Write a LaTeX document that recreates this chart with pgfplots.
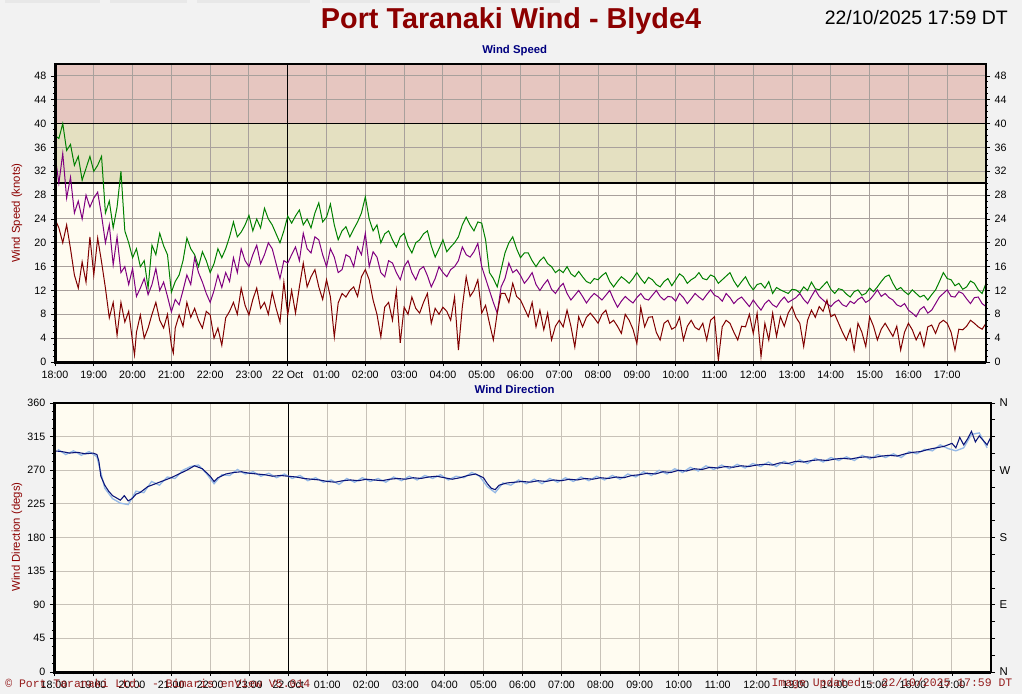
\documentclass[border=0pt]{standalone}
\usepackage{fontspec}
\setmainfont{Liberation Sans}
\newfontfamily\monofont{Liberation Mono}
\usepackage{pgfplots}
\pgfplotsset{compat=1.18}

\definecolor{pagebg}{RGB}{242,242,242}
\definecolor{cream}{RGB}{255,252,241}
\definecolor{redband}{RGB}{230,198,192}
\definecolor{yelband}{RGB}{228,224,193}
\definecolor{gridtop}{RGB}{168,160,156}
\definecolor{gridbot}{RGB}{200,194,184}
\definecolor{gustc}{RGB}{0,128,0}
\definecolor{meanc}{RGB}{128,0,128}
\definecolor{minc}{RGB}{128,0,0}
\definecolor{titlec}{RGB}{140,0,0}
\definecolor{navyc}{RGB}{0,0,128}
\definecolor{dirc}{RGB}{10,20,120}
\definecolor{dirlight}{RGB}{150,185,230}
\definecolor{copyc}{RGB}{150,30,30}

\pgfplotsset{
  wind/.style={
    scale only axis, anchor=south west,
    xmin=0, xmax=24,
    xtick={0,...,23},
    xticklabels={18:00,19:00,20:00,21:00,22:00,23:00,22 Oct,01:00,02:00,03:00,04:00,05:00,06:00,07:00,08:00,09:00,10:00,11:00,12:00,13:00,14:00,15:00,16:00,17:00},
    minor x tick num=3,
    tick align=outside, tick pos=left,
    major tick length=3pt, minor tick length=1.6pt,
    tick style={black, line width=0.6pt},
    ticklabel style={font=\fontsize{8}{9}\selectfont},
    /pgf/number format/assume math mode=true,
    axis line style={line width=0.8pt},
    grid=major,
    extra x ticks={6}, extra x tick labels={},
    extra x tick style={grid style={black, line width=1.1pt}},
  },
}

\begin{document}
\begin{tikzpicture}
\useasboundingbox (0,0) rectangle (766.5pt,520.5pt);
\fill[pagebg] (0,0) rectangle (766.5pt,520.5pt);
% faint tabs at the top edge
\fill[gray!18] (3.75pt,518pt) rectangle (75pt,520.5pt);
\fill[gray!18] (82.5pt,518pt) rectangle (140pt,520.5pt);
\fill[gray!18] (148pt,518pt) rectangle (232.5pt,520.5pt);
\fill[gray!18] (241.5pt,518pt) rectangle (420pt,520.5pt);

% panel backgrounds and bands
\fill[cream] (41.25pt,249pt) rectangle (739.5pt,472.5pt);
\fill[yelband] (41.25pt,383.1pt) rectangle (739.5pt,427.8pt);
\fill[redband] (41.25pt,427.8pt) rectangle (739.5pt,472.5pt);
\fill[cream] (40.5pt,16.5pt) rectangle (743.25pt,218.25pt);

% ---------------- wind speed ----------------
\begin{axis}[wind,
  at={(41.25pt,249pt)}, width=698.25pt, height=223.5pt,
  ymin=0, ymax=50, ytick={0,4,...,48}, minor y tick num=3,
  grid style={gridtop, line width=0.7pt},
  extra y ticks={30,40}, extra y tick labels={},
  extra y tick style={grid style={black, line width=1.1pt}},
]
% gust
\addplot[gustc, line width=0.75pt] coordinates {
(0,38)(0.1,37.5)(0.2,40)(0.3,35.5)(0.4,36.5)(0.5,33)(0.6,34.5)(0.7,30.5)(0.8,32.5)(0.9,34.5)
(1,32)(1.1,33)(1.2,34.5)(1.3,25)(1.4,27)(1.5,22.5)(1.6,26)(1.7,32)(1.8,22)(1.9,20)
(2,17.5)(2.1,19)(2.2,16)(2.3,17)(2.4,12.4)(2.5,19.6)(2.6,18)(2.7,21.6)(2.8,19.5)(2.9,18)
(3,11.7)(3.1,13.5)(3.2,14.6)(3.3,17)(3.4,20.8)(3.5,19)(3.6,18)(3.7,16)(3.8,18.5)(3.9,17)
(4,15)(4.1,16.5)(4.2,19)(4.3,17.5)(4.4,19)(4.5,21)(4.6,23.5)(4.7,21)(4.8,21.8)(4.9,23)
(5,24.6)(5.1,22)(5.2,24)(5.3,22.5)(5.4,25.8)(5.5,24)(5.6,23)(5.7,21.5)(5.8,20)(5.9,22)
(6,24.5)(6.1,23.3)(6.2,24.5)(6.3,25.5)(6.4,23)(6.5,24)(6.6,22.5)(6.7,25)(6.8,26.7)(6.9,23.5)
(7,24.3)(7.1,26.5)(7.2,23)(7.3,20.5)(7.4,22)(7.5,22.7)(7.6,21)(7.7,22.3)(7.8,23.5)(7.9,25)
(8,27.7)(8.1,24)(8.2,22)(8.3,23)(8.4,20)(8.5,21.5)(8.6,22)(8.7,20.5)(8.8,19.3)(8.9,21)
(9,21.6)(9.1,19.5)(9.2,18.3)(9.3,20)(9.4,20.5)(9.5,21.5)(9.6,22)(9.7,19.5)(9.8,17.6)(9.9,19)
(10,20.5)(10.1,18.5)(10.2,19.3)(10.3,20)(10.4,21)(10.5,23)(10.6,24.3)(10.7,23)(10.8,22)(10.9,23.5)
(11,23.3)(11.1,20.5)(11.2,15)(11.3,14)(11.4,12.6)(11.5,15.5)(11.6,18.3)(11.7,20)(11.8,21)(11.9,19)
(12,17.5)(12.1,18.3)(12.2,18.3)(12.3,17)(12.4,16)(12.5,17)(12.6,17.6)(12.7,16.5)(12.8,16)(12.9,15)
(13,15.5)(13.1,15)(13.2,16)(13.3,14.8)(13.4,14.3)(13.5,15.2)(13.6,14.3)(13.7,13.5)(13.8,13.2)(13.9,14)
(14,13.8)(14.1,14.5)(14.2,15)(14.3,13.5)(14.4,12.6)(14.5,13.5)(14.6,14.3)(14.7,13.8)(14.8,13.2)(14.9,14)
(15,15)(15.1,14)(15.2,13.2)(15.3,14.2)(15.4,13.8)(15.5,13)(15.6,12.6)(15.7,13.5)(15.8,14)(15.9,12.8)
(16,13.8)(16.1,14.8)(16.2,14.3)(16.3,13.2)(16.4,13.8)(16.5,14.2)(16.6,15)(16.7,14)(16.8,13.8)(16.9,14.6)
(17,14.3)(17.1,13.2)(17.2,13.8)(17.3,14.4)(17.4,15)(17.5,13.6)(17.6,12.6)(17.7,13.5)(17.8,14.3)(17.9,13)
(18,12.1)(18.1,13)(18.2,13.2)(18.3,12.4)(18.4,13.5)(18.5,11.5)(18.6,12.5)(18.7,12.1)(18.8,11.8)(18.9,11.5)
(19,12.2)(19.1,12.1)(19.2,11.6)(19.3,12.6)(19.4,12)(19.5,13.4)(19.6,12.3)(19.7,12.1)(19.8,12.8)(19.9,13.5)
(20,12.2)(20.1,11.5)(20.2,12.3)(20.3,12.1)(20.4,11.4)(20.5,10.9)(20.6,11.8)(20.7,12.1)(20.8,11.2)(20.9,11.5)
(21,12.4)(21.1,11.8)(21.2,12.6)(21.3,13.5)(21.4,14.3)(21.5,14.6)(21.6,13.2)(21.7,12.1)(21.8,12.5)(21.9,11.8)
(22,11.3)(22.1,12.1)(22.2,11.5)(22.3,10.9)(22.4,11.2)(22.5,10.4)(22.6,11.3)(22.7,12.1)(22.8,13.5)(22.9,15)
(23,14)(23.1,13.8)(23.2,12.8)(23.3,13.2)(23.4,12.2)(23.5,12.6)(23.6,13.6)(23.7,13.2)(23.8,12.1)(23.9,11.5)(24,13.2)
};
% mean
\addplot[meanc, line width=0.75pt] coordinates {
(0,34.7)(0.1,30)(0.2,35)(0.3,27.5)(0.4,31)(0.5,25)(0.6,27)(0.7,24)(0.8,28)(0.9,26)
(1,27.5)(1.1,28.5)(1.2,24.6)(1.3,20)(1.4,23)(1.5,16.3)(1.6,21)(1.7,15)(1.8,16)(1.9,13)
(2,15.7)(2.1,11)(2.2,12.4)(2.3,14)(2.4,11.3)(2.5,13)(2.6,15.7)(2.7,12)(2.8,13.4)(2.9,11)
(3,8.4)(3.1,10.5)(3.2,9.6)(3.3,12)(3.4,14.6)(3.5,13)(3.6,17.5)(3.7,15)(3.8,13.4)(3.9,11.5)
(4,10)(4.1,12)(4.2,14.6)(4.3,12.5)(4.4,15)(4.5,13.5)(4.6,17.5)(4.7,15)(4.8,19)(4.9,17)
(5,16)(5.1,18)(5.2,19.6)(5.3,16.5)(5.4,18)(5.5,20)(5.6,19)(5.7,16.5)(5.8,14)(5.9,17)
(6,16.6)(6.1,18)(6.2,19.3)(6.3,17)(6.4,21.6)(6.5,19)(6.6,18.3)(6.7,21)(6.8,20.5)(6.9,18)
(7,16)(7.1,19)(7.2,17.6)(7.3,15)(7.4,15.5)(7.5,18)(7.6,17.6)(7.7,16)(7.8,19.3)(7.9,18)
(8,21.6)(8.1,16)(8.2,18.5)(8.3,17.6)(8.4,15)(8.5,14.3)(8.6,17)(8.7,16.6)(8.8,15)(8.9,13.8)
(9,16)(9.1,17)(9.2,15)(9.3,13.8)(9.4,15.5)(9.5,16)(9.6,14.5)(9.7,12.6)(9.8,14)(9.9,16)
(10,15)(10.1,14.3)(10.2,15.5)(10.3,16)(10.4,17)(10.5,19.3)(10.6,18)(10.7,17.6)(10.8,18.5)(10.9,19.9)
(11,16)(11.1,14)(11.2,12)(11.3,10)(11.4,8.2)(11.5,12.6)(11.6,14)(11.7,16.6)(11.8,15)(11.9,15.5)
(12,14.5)(12.1,13.2)(12.2,14)(12.3,15)(12.4,13)(12.5,12)(12.6,13)(12.7,13.8)(12.8,12.2)(12.9,11.5)
(13,12.5)(13.1,13.2)(13.2,11.5)(13.3,10.4)(13.4,11.2)(13.5,12)(13.6,11)(13.7,9.9)(13.8,10.8)(13.9,11.5)
(14,11)(14.1,10.4)(14.2,11.2)(14.3,12)(14.4,10.5)(14.5,9.2)(14.6,10.2)(14.7,11)(14.8,10.4)(14.9,9.9)
(15,10.8)(15.1,11.5)(15.2,10.6)(15.3,10.4)(15.4,11.2)(15.5,12)(15.6,11)(15.7,10.4)(15.8,11)(15.9,10.9)
(16,10.2)(16.1,11.5)(16.2,10.8)(16.3,9.8)(16.4,10.6)(16.5,11.5)(16.6,10.9)(16.7,10.4)(16.8,11.3)(16.9,12.1)
(17,11.2)(17.1,10.9)(17.2,10.2)(17.3,11.5)(17.4,10.8)(17.5,9.8)(17.6,10.5)(17.7,10.9)(17.8,10.1)(17.9,9.3)
(18,10.4)(18.1,9.5)(18.2,8.7)(18.3,9.8)(18.4,10.4)(18.5,9.6)(18.6,9.2)(18.7,10.2)(18.8,10.9)(18.9,10)
(19,10.4)(19.1,10.8)(19.2,11.5)(19.3,10.5)(19.4,9.8)(19.5,11)(19.6,12.1)(19.7,11)(19.8,10.4)(19.9,9.8)
(20,9.3)(20.1,10)(20.2,10.4)(20.3,9.6)(20.4,9.3)(20.5,10.2)(20.6,9.8)(20.7,10.5)(20.8,10.9)(20.9,10)
(21,10.4)(21.1,11.2)(21.2,12.1)(21.3,11)(21.4,11.5)(21.5,10.8)(21.6,10.4)(21.7,9.6)(21.8,9.3)(21.9,9.8)
(22,8.7)(22.1,8.2)(22.2,7.6)(22.3,8.8)(22.4,9.3)(22.5,8.2)(22.6,8.7)(22.7,9.8)(22.8,10.9)(22.9,11.5)
(23,12.1)(23.1,11)(23.2,10.9)(23.3,11.8)(23.4,11.5)(23.5,10.6)(23.6,9.8)(23.7,10.8)(23.8,10.9)(23.9,9.8)(24,9.3)
};
% minimum
\addplot[minc, line width=0.75pt] coordinates {
(0,24)(0.1,22.5)(0.2,20)(0.3,23)(0.4,19)(0.5,14.6)(0.6,12.4)(0.7,16.8)(0.8,13.4)(0.9,21)
(1,14.6)(1.1,20.8)(1.2,16.8)(1.3,12.4)(1.4,7.4)(1.5,10)(1.6,4.5)(1.7,10)(1.8,6.7)(1.9,8.5)
(2,3.4)(2.05,1.2)(2.1,5)(2.2,7.9)(2.3,4)(2.4,5.7)(2.5,8)(2.6,10)(2.7,7)(2.8,5.7)(2.9,8)
(3,2.8)(3.05,1.5)(3.1,5.7)(3.2,7.9)(3.3,6)(3.4,10)(3.5,7.5)(3.6,9)(3.7,7)(3.8,5.7)(3.9,8.5)
(4,7.9)(4.1,4)(4.2,5.7)(4.3,2.8)(4.4,7.4)(4.5,8.5)(4.6,10)(4.7,8)(4.8,12.4)(4.9,9.5)
(5,7.9)(5.1,10.5)(5.2,12.4)(5.3,9)(5.4,10)(5.5,8)(5.6,11.7)(5.7,9)(5.8,6.7)(5.9,13.4)
(6,7.9)(6.1,12)(6.2,8.2)(6.3,12.6)(6.4,16.6)(6.5,12.6)(6.6,14.3)(6.7,15.5)(6.8,12.6)(6.9,10.5)
(7,13.8)(7.1,10.9)(7.2,4.2)(7.3,9.9)(7.4,11.5)(7.5,10.9)(7.6,12)(7.7,12.6)(7.8,11)(7.9,14.3)
(8,15.5)(8.1,13.8)(8.2,10.4)(8.3,8)(8.4,4.2)(8.5,9.2)(8.6,10)(8.7,7)(8.8,12)(8.9,3.2)
(9,9.2)(9.1,8)(9.2,10.9)(9.3,9)(9.4,8.2)(9.5,10)(9.6,11.5)(9.7,6.5)(9.8,9)(9.9,8)
(10,9.2)(10.1,8.5)(10.2,7)(10.3,10.9)(10.4,2)(10.5,9.2)(10.6,14.3)(10.7,11)(10.8,12)(10.9,13.8)
(11,8.2)(11.1,9.5)(11.2,6.5)(11.3,3.7)(11.4,8.2)(11.5,11.5)(11.6,11.5)(11.7,10)(11.8,13.2)(11.9,11)
(12,10.4)(12.1,9)(12.2,7.6)(12.3,10)(12.4,5.9)(12.5,8.7)(12.6,5.4)(12.7,8.2)(12.8,3.7)(12.9,6)
(13,7)(13.1,5.9)(13.2,8.7)(13.3,6)(13.4,2.5)(13.5,7.6)(13.6,5.9)(13.7,7.5)(13.8,8.2)(13.9,7.4)
(14,6.5)(14.1,8)(14.2,8.7)(14.3,6.5)(14.4,7)(14.5,6)(14.6,4.8)(14.7,8)(14.8,7)(14.9,5.5)
(15,3.1)(15.1,9.2)(15.2,5.9)(15.3,7.5)(15.4,7.6)(15.5,5)(15.6,3.7)(15.7,6.5)(15.8,7)(15.9,5.5)
(16,5.9)(16.1,7.5)(16.2,3.7)(16.3,6)(16.4,7)(16.5,5.8)(16.6,5.4)(16.7,6.5)(16.8,3.7)(16.9,7)
(17,7.6)(17.1,0.3)(17.2,5.9)(17.3,7)(17.4,6.5)(17.5,5)(17.6,3.7)(17.7,6)(17.8,5.9)(17.9,8)
(18,4.8)(18.1,8.2)(18.2,0.9)(18.3,6.5)(18.4,3.7)(18.5,8.2)(18.6,4.3)(18.7,7.6)(18.8,6)(18.9,8.2)
(19,9.3)(19.1,7.5)(19.2,6.5)(19.3,2.6)(19.4,7)(19.5,8.7)(19.6,7.5)(19.7,9.3)(19.8,8.5)(19.9,10.4)
(20,7.6)(20.1,8)(20.2,6.5)(20.3,5)(20.4,3.7)(20.5,5.5)(20.6,2)(20.7,6.5)(20.8,5)(20.9,2.6)
(21,7.6)(21.1,6)(21.2,3.7)(21.3,5.5)(21.4,6.5)(21.5,5.4)(21.6,4.3)(21.7,6)(21.8,2)(21.9,5)
(22,6.5)(22.1,5.4)(22.2,3.7)(22.3,5)(22.4,2.6)(22.5,5.9)(22.6,6.2)(22.7,4.8)(22.8,6.5)(22.9,7)
(23,6.5)(23.1,5)(23.2,2)(23.3,5.5)(23.4,5.4)(23.5,6)(23.6,7)(23.7,6.5)(23.8,5.9)(23.9,5.5)(24,6.5)
};
\end{axis}
% right-hand scale of the speed panel
\begin{axis}[scale only axis, anchor=south west,
  at={(41.25pt,249pt)}, width=698.25pt, height=223.5pt,
  xmin=0, xmax=24, ymin=0, ymax=50,
  axis x line=none, axis y line*=right,
  ytick={0,4,...,48}, minor y tick num=3,
  tick align=outside, major tick length=3pt, minor tick length=1.6pt,
  tick style={black, line width=0.6pt},
  ticklabel style={font=\fontsize{8}{9}\selectfont},
  /pgf/number format/assume math mode=true,
  axis line style={line width=0.9pt},
]
\end{axis}

% ---------------- wind direction ----------------
\begin{axis}[wind,
  at={(40.5pt,16.5pt)}, width=702.75pt, height=201.75pt,
  ymin=0, ymax=360, ytick={0,45,...,360}, minor y tick num=3,
  grid style={gridbot, line width=0.7pt},
]
\addplot[dirlight, line width=1pt] coordinates {
(0.1,298)(0.3,291)(0.5,296)(0.7,290)(0.9,295)(1.1,288)(1.3,246)(1.5,232)(1.7,226)(1.9,224)
(2.1,242)(2.3,240)(2.5,255)(2.7,250)(2.9,261)(3.1,259)(3.3,270)(3.5,275)(3.7,277)(3.9,266)
(4.1,252)(4.3,264)(4.5,263)(4.7,271)(4.9,265)(5.1,268)(5.3,262)(5.5,266)(5.7,260)(5.9,265)
(6.1,259)(6.3,263)(6.5,256)(6.7,260)(6.9,254)(7.1,257)(7.3,251)(7.5,259)(7.7,254)(7.9,260)
(8.1,255)(8.3,259)(8.5,254)(8.7,261)(8.9,256)(9.1,262)(9.3,257)(9.5,263)(9.7,259)(9.9,264)
(10.1,257)(10.3,262)(10.5,260)(10.7,267)(10.9,262)(11.1,248)(11.3,240)(11.5,253)(11.7,250)(11.9,257)
(12.1,252)(12.3,258)(12.5,252)(12.7,259)(12.9,254)(13.1,260)(13.3,255)(13.5,261)(13.7,256)(13.9,262)
(14.1,257)(14.3,263)(14.5,258)(14.7,265)(14.9,261)(15.1,268)(15.3,263)(15.5,270)(15.7,265)(15.9,272)
(16.1,267)(16.3,274)(16.5,269)(16.7,276)(16.9,271)(17.1,277)(17.3,272)(17.5,278)(17.7,273)(17.9,279)
(18.1,275)(18.3,281)(18.5,275)(18.7,282)(18.9,277)(19.1,284)(19.3,279)(19.5,286)(19.7,281)(19.9,287)
(20.1,283)(20.3,288)(20.5,283)(20.7,290)(20.9,285)(21.1,291)(21.3,287)(21.5,292)(21.7,287)(21.9,295)
(22.1,292)(22.3,298)(22.5,296)(22.7,304)(22.9,299)(23.1,296)(23.3,300)(23.5,318)(23.7,320)(23.9,300)
};
\addplot[dirc, line width=0.8pt] coordinates {
(0,296)(0.2,295)(0.4,293)(0.6,294)(0.8,292)(1,293)(1.1,291)(1.15,282)(1.2,262)(1.3,250)
(1.4,242)(1.5,236)(1.6,233)(1.7,230)(1.8,236)(1.9,229)(2,232)(2.1,238)(2.2,240)(2.4,248)
(2.6,252)(2.8,256)(3,260)(3.2,265)(3.4,270)(3.6,276)(3.8,272)(4,262)(4.1,255)(4.2,260)
(4.4,265)(4.6,267)(4.8,268)(5,266)(5.2,265)(5.4,264)(5.6,262)(5.8,263)(6,262)(6.2,261)
(6.4,259)(6.6,258)(6.8,257)(7,255)(7.2,254)(7.4,256)(7.6,257)(7.8,256)(8,258)(8.2,257)
(8.4,256)(8.6,258)(8.8,259)(9,258)(9.2,260)(9.4,259)(9.6,261)(9.8,262)(10,260)(10.2,258)
(10.4,260)(10.6,263)(10.8,265)(11,260)(11.1,252)(11.2,246)(11.3,244)(11.4,250)(11.6,253)(11.8,254)
(12,255)(12.2,254)(12.4,256)(12.6,255)(12.8,257)(13,256)(13.2,258)(13.4,257)(13.6,259)(13.8,258)
(14,260)(14.2,259)(14.4,261)(14.6,260)(14.8,263)(15,264)(15.2,266)(15.4,265)(15.6,268)(15.8,267)
(16,270)(16.2,269)(16.4,272)(16.6,271)(16.8,274)(17,273)(17.2,275)(17.4,274)(17.6,276)(17.8,275)
(18,277)(18.2,278)(18.4,277)(18.6,280)(18.8,279)(19,282)(19.2,281)(19.4,283)(19.6,284)(19.8,283)
(20,285)(20.2,286)(20.4,285)(20.6,287)(20.8,288)(21,287)(21.2,289)(21.4,290)(21.6,289)(21.8,292)
(22,294)(22.2,295)(22.4,298)(22.6,300)(22.8,302)(23,306)(23.1,300)(23.2,314)(23.3,304)(23.4,312)
(23.5,322)(23.6,308)(23.7,316)(23.8,310)(23.9,304)(24,315)
};
\end{axis}
\begin{axis}[scale only axis, anchor=south west,
  at={(40.5pt,16.5pt)}, width=702.75pt, height=201.75pt,
  xmin=0, xmax=24, ymin=0, ymax=360,
  axis x line=none, axis y line*=right,
  ytick={0,90,...,360}, yticklabels={N,E,S,W,N}, minor y tick num=3,
  tick align=outside, major tick length=3pt, minor tick length=3pt,
  tick style={black, line width=0.6pt},
  ticklabel style={font=\fontsize{8.5}{9}\selectfont},
  axis line style={line width=2.2pt},
]
\end{axis}

% heavy left and bottom frame lines
\draw[line width=2.25pt] (41.25pt,472.5pt) -- (41.25pt,249pt) -- (739.5pt,249pt);
\draw[line width=2.25pt] (40.5pt,218.25pt) -- (40.5pt,16.5pt) -- (743.25pt,16.5pt);

% titles and labels
\node[font=\fontsize{21.6}{24}\bfseries, text=titlec] at (383.25pt,504.5pt) {Port Taranaki Wind - Blyde4};
\node[font=\fontsize{14.6}{17}\selectfont, anchor=east, inner sep=0pt] at (756pt,507pt) {22/10/2025 17:59 DT};
\node[font=\fontsize{8.5}{10}\bfseries, text=navyc] at (386pt,482.3pt) {Wind Speed};
\node[font=\fontsize{8.5}{10}\bfseries, text=navyc] at (386pt,228.5pt) {Wind Direction};
\node[font=\fontsize{8.5}{10}\selectfont, text=titlec, rotate=90] at (12.75pt,360.75pt) {Wind Speed (knots)};
\node[font=\fontsize{8.5}{10}\selectfont, text=titlec, rotate=90] at (12.75pt,117.75pt) {Wind Direction (degs)};

% overlay footer texts
\node[font=\monofont\fontsize{8.6}{10}\selectfont, text=copyc, anchor=west, inner sep=0pt] at (3.75pt,7.6pt) {© Port Taranaki Ltd. - Bimaris enView V5.014};
\node[font=\monofont\fontsize{8.6}{10}\selectfont, text=copyc, anchor=east, inner sep=0pt] at (759.5pt,8.2pt) {Image Updated - 22/10/2025 17:59 DT};
\end{tikzpicture}
\end{document}
